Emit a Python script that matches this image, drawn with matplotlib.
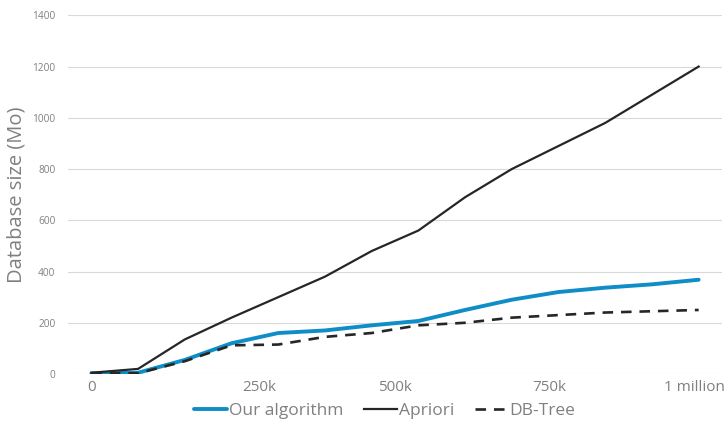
import matplotlib
matplotlib.use("Agg")
import matplotlib.pyplot as plt

plt.rcParams['font.family'] = ['Open Sans', 'DejaVu Sans']

points = list(range(14))
our_algorithm = [3, 5, 55, 120, 160, 170, 190, 207, 250, 290, 320, 337, 350, 368]
apriori = [5, 20, 135, 220, 300, 380, 480, 560, 690, 800, 890, 980, 1090, 1200]
db_tree = [2, 3, 50, 112, 115, 145, 160, 190, 200, 220, 230, 240, 245, 250]
x_tick_pos = [0, 3.6, 6.5, 9.8, 12.9]
x_tick_labels = ["0", "250k", "500k", "750k", "1 million"]
y_ticks = [0, 200, 400, 600, 800, 1000, 1200, 1400]

fig = plt.figure(figsize=(7.26, 4.22), dpi=100)
ax = fig.add_axes([0.0937, 0.1137, 0.9008, 0.85])

gray = '#808080'
ax.plot(points, our_algorithm, color='#0e8dc6', lw=2.8, label='Our algorithm',
        solid_capstyle='round', zorder=3)
ax.plot(points, apriori, color='#262626', lw=1.6, label='Apriori', zorder=4)
ax.plot(points, db_tree, color='#262626', lw=1.9, ls=(0, (4, 3)), label='DB-Tree', zorder=4)

ax.set_xlim(-0.5, 13.5)
ax.set_ylim(0, 1400)
ax.set_yticks(y_ticks)
ax.set_yticklabels([str(v) for v in y_ticks])
ax.set_xticks(x_tick_pos)
ax.set_xticklabels(x_tick_labels)
ax.tick_params(axis='y', length=0, labelsize=7.3, labelcolor=gray, pad=9)
ax.tick_params(axis='x', length=0, labelsize=11, labelcolor=gray, pad=4)
ax.grid(axis='y', color='#d9d9d9', lw=0.8)
ax.set_axisbelow(True)
for s in ax.spines.values():
    s.set_visible(False)

ax.set_ylabel('Database size (Mo)', fontsize=14.5, color=gray, labelpad=4)

leg = fig.legend(loc='lower center', bbox_to_anchor=(0.530, -0.03), ncol=3, frameon=False,
                 fontsize=12.5, handlelength=1.9, handletextpad=0.1, columnspacing=1.2,
                 labelcolor=gray)

fig.savefig('out.png', dpi=100)
